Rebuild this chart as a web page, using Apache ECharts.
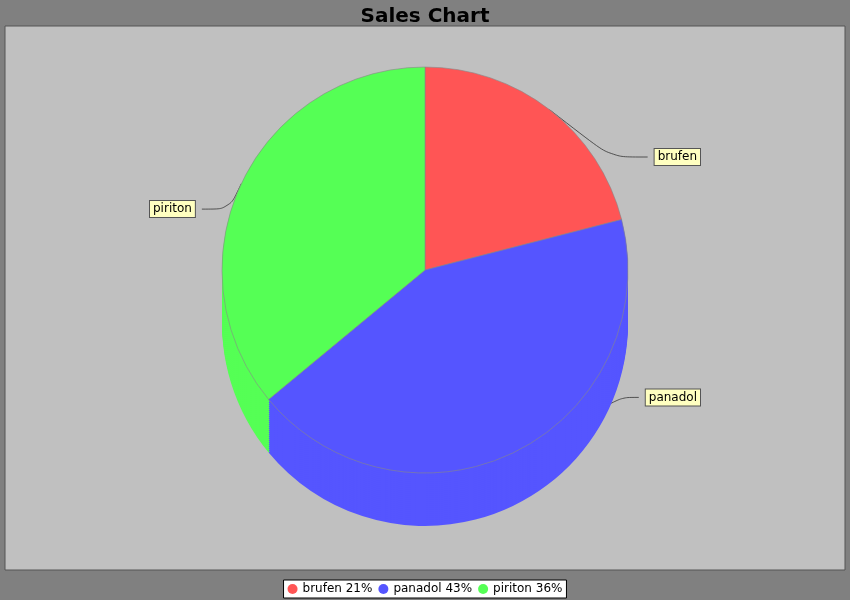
<!DOCTYPE html>
<html>
<head>
<meta charset="utf-8">
<script src="https://cdn.jsdelivr.net/npm/echarts@6/dist/echarts.min.js"></script>
<style>html,body{margin:0;padding:0;background:#808080}#c{width:850px;height:600px}</style>
</head>
<body>
<div id="c"></div>
<script>
var names = ['brufen', 'panadol', 'piriton'];
var values = [21, 43, 36];
var colors = ['#ff5555', '#5555ff', '#55ff55'];

var total = values.reduce(function(a, b) { return a + b; }, 0);
var data = names.map(function(n, i) { return { name: n, value: values[i] }; });

var cx = 425, cy = 270, r = 203, depth = 53;
var series = [];
// side of the 3D pie: stacked copies shifted down
for (var k = depth; k > 0; k -= 2) {
  series.push({
    type: 'pie', silent: true, animation: false,
    center: [cx, cy + k], radius: r, startAngle: 90,
    label: { show: false }, labelLine: { show: false },
    data: data
  });
}
series.push({
  type: 'pie', animation: false,
  center: [cx, cy], radius: r, startAngle: 90,
  itemStyle: { borderColor: '#888', borderWidth: 0.6 },
  label: {
    show: true, position: 'outside', alignTo: 'edge', edgeDistance: 150,
    color: '#000', fontSize: 12, fontFamily: 'DejaVu Sans',
    backgroundColor: '#ffffc0', borderColor: '#555', borderWidth: 1,
    padding: [2, 3], formatter: '{b}'
  },
  labelLine: { show: true, length: -60, length2: 80, smooth: true, lineStyle: { color: '#333', width: 0.8 } },
  data: data
});

var chart = echarts.init(document.getElementById('c'));
chart.setOption({
  backgroundColor: '#808080',
  color: colors,
  title: { text: 'Sales Chart', left: 'center', top: 2, textStyle: { fontSize: 20, fontWeight: 'bold', color: '#000', fontFamily: 'DejaVu Sans' } },
  graphic: [{ type: 'rect', z: -10, shape: { x: 5, y: 26, width: 840, height: 544 }, style: { fill: '#c0c0c0', stroke: '#555', lineWidth: 1 } }],
  legend: {
    bottom: 2, left: 'center', icon: 'circle', itemWidth: 10, itemHeight: 10, itemGap: 6,
    backgroundColor: '#fff', borderColor: '#000', borderWidth: 1, padding: [3, 4],
    textStyle: { color: '#000', fontSize: 12, fontFamily: 'DejaVu Sans' },
    data: names,
    formatter: function(n) { return n + ' ' + Math.round(values[names.indexOf(n)] / total * 100) + '%'; }
  },
  series: series
});
</script>
</body>
</html>
